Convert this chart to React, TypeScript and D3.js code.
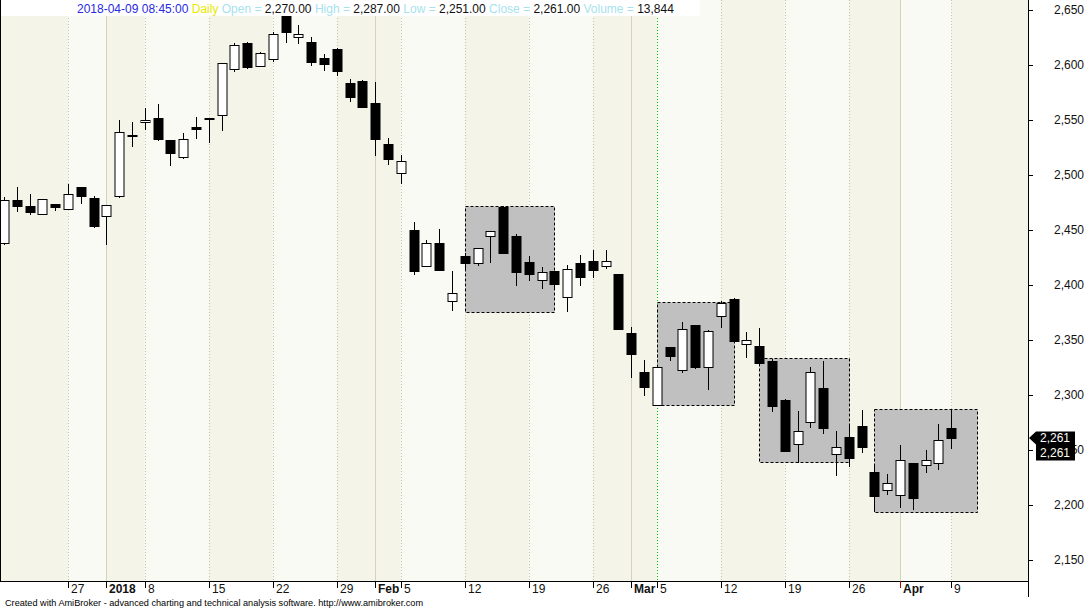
import React from "react";
import * as d3 from "d3";

const dates = ["2017-12-18","2017-12-19","2017-12-20","2017-12-21","2017-12-22","2017-12-27","2017-12-28","2017-12-29","2018-01-02","2018-01-03","2018-01-04","2018-01-08","2018-01-09","2018-01-10","2018-01-11","2018-01-12","2018-01-15","2018-01-16","2018-01-17","2018-01-18","2018-01-19","2018-01-22","2018-01-23","2018-01-24","2018-01-25","2018-01-26","2018-01-29","2018-01-30","2018-01-31","2018-02-01","2018-02-02","2018-02-05","2018-02-06","2018-02-07","2018-02-08","2018-02-09","2018-02-12","2018-02-13","2018-02-14","2018-02-15","2018-02-16","2018-02-19","2018-02-20","2018-02-21","2018-02-22","2018-02-23","2018-02-26","2018-02-27","2018-02-28","2018-03-01","2018-03-02","2018-03-05","2018-03-06","2018-03-07","2018-03-08","2018-03-09","2018-03-12","2018-03-13","2018-03-14","2018-03-15","2018-03-16","2018-03-19","2018-03-20","2018-03-21","2018-03-22","2018-03-23","2018-03-26","2018-03-27","2018-03-28","2018-03-29","2018-04-02","2018-04-03","2018-04-04","2018-04-05","2018-04-09"];

const opens = [2438,2477,2471.5,2464.5,2473.5,2469.5,2489,2479.5,2462.5,2481,2536.5,2548,2551.5,2531.5,2516,2543.5,2551.5,2554.25,2596.5,2620,2599,2605.25,2648,2625.75,2620.5,2606.5,2614.5,2583.25,2585.5,2565.25,2528,2502,2449.75,2417,2438,2385.25,2426,2419.75,2444.25,2471.25,2444.25,2421,2404.25,2412.75,2389.5,2419.75,2421.5,2417,2409.75,2356,2320.5,2290.5,2344,2322.5,2363.25,2325.25,2371.5,2387.5,2346,2344.25,2331,2295.5,2255.25,2275.25,2306,2246.5,2261.5,2271.5,2229.75,2213.5,2208.75,2238,2236,2238,2270];
const highs = [2480,2489,2482.5,2478,2474,2492,2489,2481,2472.5,2550,2548,2561,2564.5,2531.5,2538,2552.5,2552,2602,2620,2621,2612,2630,2652,2636.5,2625.25,2610,2615,2587.25,2586,2584.75,2534,2518.25,2457,2441,2450.5,2412.75,2429,2434,2449,2472,2446.5,2426.5,2416,2413,2418.25,2427.25,2431.75,2431.75,2410,2361.5,2331.75,2325.5,2344,2366.5,2363.5,2359,2385.5,2388,2357.25,2361,2332.5,2296,2285.5,2325.25,2331,2267.25,2272.5,2286.5,2236.5,2228,2254.25,2238,2250,2273.5,2287];
const lows = [2436,2466.5,2464,2464,2467.5,2469.5,2474,2452,2436.5,2479.5,2525.5,2541,2530.5,2508.5,2514.5,2533,2529.5,2540.25,2594,2596,2598,2603,2620.25,2619.5,2599.5,2594.75,2590,2566.5,2561,2517.5,2509.5,2492,2409.5,2417,2413.5,2376.5,2413,2417.25,2420.25,2428,2399.5,2404,2396,2397,2375.75,2399.5,2406,2414.25,2359.5,2315.75,2299.5,2290,2331.25,2320.25,2324,2304.5,2361.25,2349,2334,2327,2284.75,2248.5,2238,2269.75,2264.25,2226.5,2234.75,2247,2193.5,2209.5,2197.5,2195.5,2229.5,2231.75,2251];
const closes = [2477,2472,2466.5,2478,2470.5,2482.5,2480.5,2454,2472.5,2539,2535.25,2549.75,2533,2520.25,2532.5,2542,2550.5,2601.75,2618.25,2598.25,2611.25,2628.5,2630.25,2628.25,2603,2601.25,2594.75,2571.25,2562,2532.5,2514.75,2512.5,2413,2438,2414,2392.5,2420.25,2433.5,2448.75,2428.75,2411.5,2410.25,2411.75,2401.25,2414.25,2407.5,2413.5,2421.5,2359.75,2337,2307.5,2325.25,2335.75,2359.75,2325.75,2358,2383.5,2349.5,2349.75,2329.5,2290.25,2249.5,2267.25,2320.5,2269.75,2252.5,2242.5,2253,2208.5,2219.75,2240.5,2206.5,2240.5,2259,2261];

// consolidation boxes: bar index range and price bounds
const boxFrom = [36, 51, 59, 68];
const boxTo = [43, 57, 66, 76];
const boxTop = [2472, 2384.25, 2333.5, 2287];
const boxBottom = [2375.5, 2290.5, 2238.75, 2193.5];

// x-axis ticks
const tickDates = ["2017-12-27","2018-01-02","2018-01-08","2018-01-15","2018-01-22","2018-01-29","2018-02-01","2018-02-05","2018-02-12","2018-02-19","2018-02-26","2018-03-01","2018-03-05","2018-03-12","2018-03-19","2018-03-26","2018-04-02","2018-04-09"];
const tickLabels = ["27","2018","8","15","22","29","Feb","5","12","19","26","Mar","5","12","19","26","Apr","9"];
const tickIsMonth = [false,true,false,false,false,false,true,false,false,false,false,true,false,false,false,false,true,false];
const tickIsWeek = [true,true,true,true,true,true,false,true,true,true,true,false,true,true,true,true,true,true];
const selectedDate = "2018-03-05";

const yTicks = [2150,2200,2250,2300,2350,2400,2450,2500,2550,2600,2650];

const header = { date: "2018-04-09 08:45:00", period: "Daily", open: "2,270.00", high: "2,287.00", low: "2,251.00", close: "2,261.00", volume: "13,844" };

const W = 1089, H = 609;
const plotRight = 1028, plotBottom = 581;
const FONT = "Arial, 'Liberation Sans', sans-serif";

export default function App() {
  const n = dates.length;
  const x = d3.scaleLinear().domain([0, n - 1]).range([4, 951.2]);
  const y = d3.scaleLinear().domain([2150, 2650]).range([560, 10]);
  const fmt = d3.format(",");
  const bw = 9;

  const tickIdx = tickDates.map((d) => dates.indexOf(d));
  const weekIdx = tickIdx.filter((_, k) => tickIsWeek[k]);
  const bounds = [0, ...weekIdx.map((i) => x(i)), plotRight];
  const bands = [];
  for (let k = 0; k < bounds.length - 1; k++) {
    bands.push({ x0: bounds[k], x1: bounds[k + 1], c: k % 2 === 0 ? "#f4f4e8" : "#fafaf5" });
  }

  const lastClose = closes[n - 1];
  const ly = y(lastClose);
  const selIdx = dates.indexOf(selectedDate);

  return (
    <svg width={W} height={H} style={{ position: "absolute", left: 0, top: 0, background: "#ffffff" }} fontFamily={FONT}>
      <defs>
        <clipPath id="plot"><rect x={0} y={0} width={plotRight} height={plotBottom} /></clipPath>
      </defs>
      <rect x={0} y={0} width={W} height={H} fill="#ffffff" />
      <g clipPath="url(#plot)">
        {bands.map((b, k) => (
          <rect key={k} x={b.x0} y={0} width={b.x1 - b.x0} height={plotBottom} fill={b.c} />
        ))}
        {tickIdx.map((i, k) => {
          const xx = Math.round(x(i)) + 0.5;
          if (i === selIdx) {
            return <line key={k} x1={xx} x2={xx} y1={0} y2={plotBottom} stroke="#00c000" strokeDasharray="1,2" />;
          }
          return tickIsMonth[k] ? (
            <line key={k} x1={xx} x2={xx} y1={0} y2={plotBottom} stroke="#d2d2bf" />
          ) : (
            <line key={k} x1={xx} x2={xx} y1={0} y2={plotBottom} stroke="#c6c6aa" strokeDasharray="1,2" />
          );
        })}
        {boxFrom.map((f, k) => (
          <rect key={k} x={Math.round(x(f)) + 0.5} y={Math.round(y(boxTop[k])) + 0.5}
            width={Math.round(x(boxTo[k])) - Math.round(x(f))}
            height={Math.round(y(boxBottom[k])) - Math.round(y(boxTop[k]))}
            fill="#c0c0c0" stroke="#000" strokeDasharray="3,2" />
        ))}
        {dates.map((d, i) => {
          const cx = Math.round(x(i)) + 0.5;
          const up = closes[i] >= opens[i];
          const top = Math.round(y(Math.max(opens[i], closes[i])));
          const bot = Math.round(y(Math.min(opens[i], closes[i])));
          const h = Math.max(1, bot - top);
          return (
            <g key={d}>
              <line x1={cx} x2={cx} y1={Math.round(y(highs[i]))} y2={Math.round(y(lows[i]))} stroke="#000" strokeWidth={1} />
              <rect x={cx - bw / 2} y={top + 0.5} width={bw} height={h} fill={up ? "#ffffff" : "#000000"} stroke="#000" strokeWidth={1} />
            </g>
          );
        })}
      </g>
      {/* header */}
      <rect x={0} y={0} width={700} height={16} fill="#ffffff" />
      <text x={77} y={13} fontSize={12}>
        <tspan fill="#2a2ae0">{header.date}</tspan>
        <tspan fill="#e8e800">{" " + header.period}</tspan>
        <tspan fill="#a6e2ee">{"  Open = "}</tspan><tspan fill="#111">{header.open}</tspan>
        <tspan fill="#a6e2ee">{" High = "}</tspan><tspan fill="#111">{header.high}</tspan>
        <tspan fill="#a6e2ee">{" Low = "}</tspan><tspan fill="#111">{header.low}</tspan>
        <tspan fill="#a6e2ee">{" Close = "}</tspan><tspan fill="#111">{header.close}</tspan>
        <tspan fill="#a6e2ee">{" Volume = "}</tspan><tspan fill="#111">{header.volume}</tspan>
      </text>
      {/* frame */}
      <line x1={0.5} x2={0.5} y1={0} y2={plotBottom} stroke="#000" />
      <line x1={0} x2={plotRight} y1={plotBottom + 0.5} y2={plotBottom + 0.5} stroke="#000" />
      <line x1={plotRight + 0.5} x2={plotRight + 0.5} y1={0} y2={597} stroke="#000" />
      {/* y axis */}
      {yTicks.map((v) => (
        <g key={v}>
          <line x1={plotRight} x2={plotRight + 5} y1={Math.round(y(v)) + 0.5} y2={Math.round(y(v)) + 0.5} stroke="#000" />
          <text x={1084} y={y(v)} dy="0.35em" textAnchor="end" fontSize={12} fill="#111">{fmt(v)}</text>
        </g>
      ))}
      {/* x axis */}
      {tickIdx.map((i, k) => {
        const xx = Math.round(x(i)) + 0.5;
        return (
          <g key={k}>
            <line x1={xx} x2={xx} y1={plotBottom} y2={588} stroke={tickLabels[k] === "Apr" ? "#c00000" : "#000"} />
            <text x={xx + 2.5} y={593} fontSize={12} fontWeight={tickIsMonth[k] ? "bold" : "normal"} fill="#111">{tickLabels[k]}</text>
          </g>
        );
      })}
      {/* last price labels */}
      <path d={`M${plotRight + 1},${ly} L${plotRight + 8},${ly - 6.5} L1075,${ly - 6.5} L1075,${ly + 22.5} L${plotRight + 8},${ly + 22.5} L${plotRight + 8},${ly + 6.5} Z`} fill="#000" />
      <text x={1040} y={ly + 4.5} fontSize={12} fill="#ffffff">{fmt(lastClose)}</text>
      <text x={1040} y={ly + 19.5} fontSize={12} fill="#ffffee">{fmt(lastClose)}</text>
      {/* footer */}
      <text x={5} y={606} fontSize={9} fill="#000" textLength={418} lengthAdjust="spacingAndGlyphs">Created with AmiBroker - advanced charting and technical analysis software. http://www.amibroker.com</text>
    </svg>
  );
}
